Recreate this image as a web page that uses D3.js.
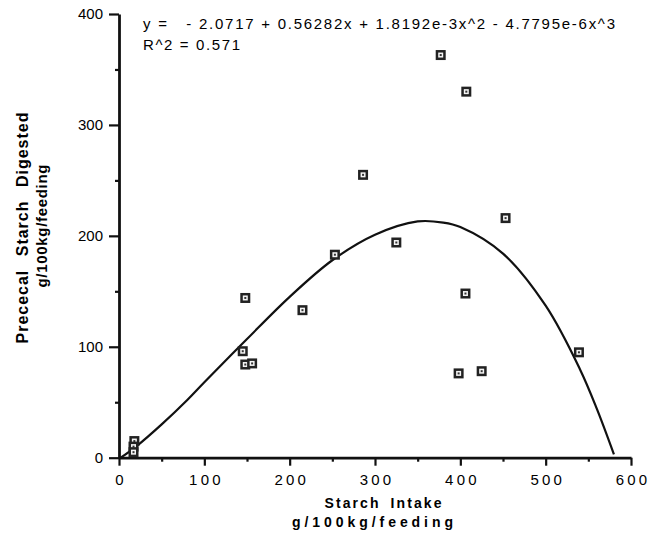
<!DOCTYPE html>
<html>
<head>
<meta charset="utf-8">
<script src="https://cdn.jsdelivr.net/npm/d3@7"></script>
<style>
  body { margin: 0; background: #fff; }
  svg text { font-family: Arial, "Liberation Sans", Helvetica, sans-serif; fill: #000; }
</style>
</head>
<body>
<svg id="chart" width="654" height="537"></svg>
<script>
// Data
const intake = [377, 407, 286, 453, 325, 253, 406, 148, 215, 145, 148, 156, 398, 425, 539, 18, 17, 17];
const digested = [363, 330, 255, 216, 194, 183, 148, 144, 133, 96, 84, 85, 76, 78, 95, 15, 10, 5];

// fitted cubic, points
const fitX = [2, 20, 50, 80, 100, 150, 200, 250, 300, 350, 380, 400, 450, 500, 540, 560, 580];
const fitY = [0, 10, 30, 52, 68, 107, 145, 178, 201, 213, 212, 208, 184, 137, 80, 44, 3];

const xTicks = [0, 100, 200, 300, 400, 500, 600];
const xMinor = [50, 150, 250, 350, 450, 550];
const yTicks = [0, 100, 200, 300, 400];
const yMinor = [50, 150, 250, 350];

const equation = "y =   - 2.0717 + 0.56282x + 1.8192e-3x^2 - 4.7795e-6x^3";
const rSquared = "R^2 = 0.571";

var svg = d3.select("#chart");

var x = d3.scaleLinear().domain([0, 600]).range([119, 631]);
var y = d3.scaleLinear().domain([0, 400]).range([457.7, 14]);

// X axis
var gx = svg.append("g")
  .attr("transform", `translate(0,${y(0)})`)
  .call(d3.axisBottom(x).tickValues(xTicks).tickSize(8).tickPadding(9).tickSizeOuter(0));
gx.append("g")
  .call(d3.axisBottom(x).tickValues(xMinor).tickSize(4).tickFormat("").tickSizeOuter(0))
  .select(".domain").remove();
gx.selectAll("text")
  .style("font-size", "15px")
  .style("letter-spacing", "3.2px")
  .attr("dx", "1.6px");

// Y axis
var gy = svg.append("g")
  .attr("transform", `translate(${x(0)},0)`)
  .call(d3.axisLeft(y).tickValues(yTicks).tickSize(10).tickPadding(6).tickSizeOuter(0));
gy.append("g")
  .call(d3.axisLeft(y).tickValues(yMinor).tickSize(4).tickFormat("").tickSizeOuter(0))
  .select(".domain").remove();
gy.selectAll("text").style("font-size", "15px");

svg.selectAll(".domain").attr("stroke", "#111").attr("stroke-width", 2.8);
svg.selectAll(".tick line").attr("stroke", "#111").attr("stroke-width", 2.2);

// Axis titles
svg.append("text")
  .attr("transform", "translate(28,228) rotate(-90)")
  .attr("text-anchor", "middle")
  .attr("textLength", 231)
  .attr("lengthAdjust", "spacing")
  .style("font-size", "16px").style("font-weight", "bold").style("word-spacing", "8px")
  .text("Prececal Starch Digested");
svg.append("text")
  .attr("transform", "translate(47,226) rotate(-90)")
  .attr("text-anchor", "middle")
  .attr("textLength", 123)
  .attr("lengthAdjust", "spacing")
  .style("font-size", "15px").style("font-weight", "bold")
  .text("g/100kg/feeding");

svg.append("text")
  .attr("x", 383).attr("y", 508)
  .attr("text-anchor", "middle")
  .attr("textLength", 117)
  .attr("lengthAdjust", "spacing")
  .style("font-size", "14px").style("font-weight", "bold").style("word-spacing", "4px")
  .text("Starch Intake");
svg.append("text")
  .attr("x", 372.5).attr("y", 527)
  .attr("text-anchor", "middle")
  .attr("textLength", 161)
  .attr("lengthAdjust", "spacing")
  .style("font-size", "14px").style("font-weight", "bold")
  .text("g/100kg/feeding");

// Equation
svg.append("text")
  .attr("x", 143).attr("y", 29)
  .attr("textLength", 472)
  .attr("lengthAdjust", "spacing")
  .style("font-size", "15px").style("white-space", "pre")
  .text(equation);
svg.append("text")
  .attr("x", 143).attr("y", 50)
  .attr("textLength", 97)
  .attr("lengthAdjust", "spacing")
  .style("font-size", "15px").style("white-space", "pre")
  .text(rSquared);

// Fitted curve
var line = d3.line()
  .x((d, i) => x(fitX[i]))
  .y((d, i) => y(fitY[i]))
  .curve(d3.curveCatmullRom);
svg.append("path")
  .datum(fitX)
  .attr("d", line)
  .attr("fill", "none")
  .attr("stroke", "#111")
  .attr("stroke-width", 2.2);

// Points
var pts = svg.selectAll("g.pt")
  .data(intake)
  .enter().append("g")
    .attr("class", "pt")
    .attr("transform", (d, i) => `translate(${x(d)},${y(digested[i])})`);
pts.append("rect")
  .attr("x", -5).attr("y", -5).attr("width", 10).attr("height", 10)
  .attr("fill", "#222");
pts.append("rect")
  .attr("x", -2.5).attr("y", -2.5).attr("width", 5).attr("height", 5)
  .attr("fill", "#f4f4f4");
pts.append("rect")
  .attr("x", -1).attr("y", -1).attr("width", 2).attr("height", 2)
  .attr("fill", "#333");
</script>
</body>
</html>
